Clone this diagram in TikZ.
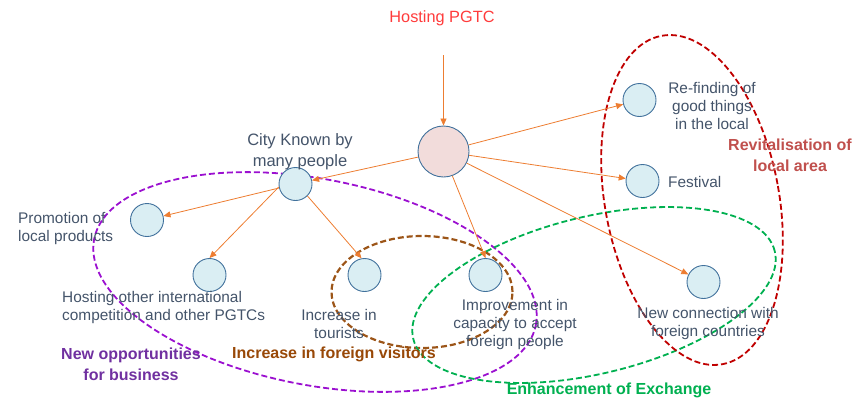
\documentclass[tikz,border=0pt]{standalone}
\usepackage{fontspec}
\setmainfont{Liberation Sans}
\usetikzlibrary{arrows.meta}
\definecolor{txt}{HTML}{44546A}
\definecolor{cborder}{HTML}{41719C}
\definecolor{cfill}{HTML}{DAEEF3}
\definecolor{mfill}{HTML}{F2DCDB}
\definecolor{arr}{HTML}{ED7D31}
\definecolor{pgtc}{HTML}{FF3B3B}
\definecolor{purp}{HTML}{9B10D0}
\definecolor{purptxt}{HTML}{7030A0}
\definecolor{brn}{HTML}{9C5518}
\definecolor{brntxt}{HTML}{984807}
\definecolor{grn}{HTML}{00B050}
\definecolor{rd}{HTML}{C00000}
\definecolor{rdtxt}{HTML}{C0504D}
\begin{document}
\begin{tikzpicture}[x=1pt,y=-1pt,
  small/.style={circle,draw=cborder,fill=cfill,line width=0.9pt,minimum size=33pt,inner sep=0pt},
  big/.style={circle,draw=cborder,fill=mfill,line width=0.9pt,minimum size=51pt,inner sep=0pt},
  lbl/.style={text=txt,inner sep=0pt,font=\fontsize{15.4}{18}\selectfont},
  ttl/.style={inner sep=0pt,font=\fontsize{16}{21}\selectfont\bfseries,align=center},
  conn/.style={draw=arr,line width=0.8pt,-{Triangle[length=7pt,width=6pt]}},
  grp/.style={dash pattern=on 6pt off 3pt,line width=1.8pt}]
\useasboundingbox (0,0) rectangle (866,399);
% groups
\draw[grp,purp,rotate around={-11:(315,282)}] (315,282) ellipse [x radius=225pt,y radius=103pt];
\draw[grp,brn,line width=2.2pt] (422,292) ellipse [x radius=90.5pt,y radius=56pt];
\draw[grp,grn,rotate around={13.6:(594,295)}] (594,295) ellipse [x radius=186pt,y radius=78.5pt];
\draw[grp,rd,rotate around={10.5:(692,200)}] (692,200) ellipse [x radius=87pt,y radius=167pt];
% circles
\node[big] (main) at (443.5,151.5) {};
\node[small] (city) at (295.5,184) {};
\node[small] (promo) at (147,220) {};
\node[small] (host) at (209.5,275) {};
\node[small] (tour) at (364.5,275) {};
\node[small] (impr) at (485.5,275) {};
\node[small] (newc) at (703.5,282) {};
\node[small] (refind) at (639.5,100) {};
\node[small] (fest) at (642.5,181) {};
% texts
\node[inner sep=0pt,text=pgtc,font=\fontsize{16.3}{20}\selectfont] (pgtctext) at (442,18) {Hosting PGTC};
\coordinate (pgtcarrow) at (443.5,55);
\node[lbl,align=center,font=\fontsize{16.5}{21}\selectfont] (citytext) at (300,152) {City Known by\\many people};
\node[lbl,align=left,anchor=west] (promotext) at (18,229) {Promotion of\\local products};
\node[lbl,align=left,anchor=west] (hosttext) at (62,308) {Hosting other international\\competition and other PGTCs};
\node[lbl,align=center] (tourtext) at (339,324) {Increase in\\tourists};
\node[lbl,align=center] (imprtext) at (515,325) {Improvement in\\capacity to accept\\foreign people};
\node[lbl,align=center] (newctext) at (708,324) {New connection with\\foreign countries};
\node[lbl,align=center] (refindtext) at (712,106) {Re-finding of\\good things\\in the local};
\node[lbl,anchor=west] (festtext) at (668,182) {Festival};
% titles
\node[ttl,text=rdtxt] (t1) at (790,155) {Revitalisation of\\local area};
\node[ttl,text=purptxt] (t2) at (131,364) {New opportunities\\for business};
\node[ttl,text=brntxt] (t3) at (334,354) {Increase in foreign visitors};
\node[ttl,text=grn] (t4) at (609,390) {Enhancement of Exchange};
% connectors
\draw[conn] (pgtcarrow) -- (main);
\draw[conn] (main) -- (city);
\draw[conn] (main) -- (refind);
\draw[conn] (main) -- (fest);
\draw[conn] (main.-70) -- (impr.north);
\draw[conn] (main) -- (newc);
\draw[conn] (city) -- (promo);
\draw[conn] (city.190) -- (host.north);
\draw[conn] (city.-45) -- (tour.100);
\end{tikzpicture}
\end{document}
